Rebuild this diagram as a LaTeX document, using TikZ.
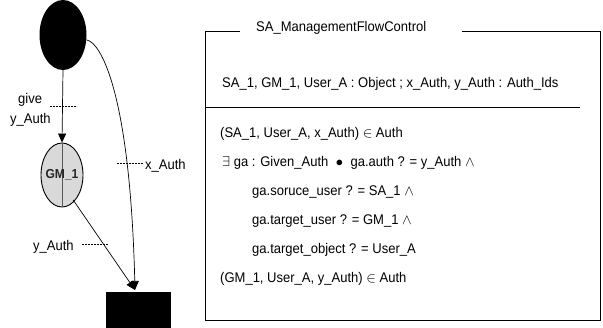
\documentclass[tikz,border=0pt]{standalone}
\usepackage{fontspec}
\setmainfont{Liberation Sans}[FakeStretch=0.93]
\usetikzlibrary{arrows.meta,shapes.geometric}
\begin{document}
\begin{tikzpicture}[x=1pt,y=-1pt,
  lbl/.style={font=\fontsize{14}{16}\selectfont, inner sep=0pt},
  ztxt/.style={font=\fontsize{14}{16}\selectfont, anchor=west, inner sep=0pt},
  tip/.style={-{Triangle[length=9pt,width=8pt]}},
  tick/.style={dashed, dash pattern=on 2pt off 1pt, line width=0.5pt}]
\useasboundingbox (0,0) rectangle (603,327);

% ---- flow graph ----
\node[ellipse, fill=black, minimum width=47pt, minimum height=70pt, inner sep=0pt] (sa) at (63,35) {};
\node[ellipse, draw, line width=0.9pt, fill=gray!30, minimum width=42pt, minimum height=64pt, inner sep=0pt] (gm) at (62,175) {};
\draw[line width=0.5pt, gray!70!black] (gm.north) -- (gm.south);
\node[font=\fontsize{13}{15}\selectfont\bfseries, text=black!85] at (gm.center) {GM\_1};
\node[fill=black, minimum width=65pt, minimum height=40pt, inner sep=0pt, anchor=north west] (ua) at (106,292) {};
\coordinate (hit) at (135,290);

\draw[tip, line width=0.7pt] (sa.south) -- (gm.north);
\draw[tip, line width=0.7pt] (sa.east |- 63,40) .. controls (100,42) and (130,90) .. (hit);
\draw[tip, line width=0.7pt] (gm.south east) ++(-4,2) coordinate (gmo) (gmo) -- (hit);

% edge labels with leader ticks
\node[lbl, anchor=west] (give) at (18,100) {give};
\node[lbl, anchor=west] (ya) at (10,120) {y\_Auth};
\coordinate (t1a) at (50,106); \coordinate (t1b) at (77,106);
\draw[tick] (t1a) -- (t1b);
\node[lbl, anchor=west] (xa) at (145,166) {x\_Auth};
\coordinate (t2a) at (117,163); \coordinate (t2b) at (143,163);
\draw[tick] (t2a) -- (t2b);
\node[lbl, anchor=west] (yb) at (33,247) {y\_Auth};
\coordinate (t3a) at (82,244); \coordinate (t3b) at (108,244);
\draw[tick] (t3a) -- (t3b);

% ---- schema box ----
\coordinate (tl) at (205,31);
\coordinate (tr) at (600,31);
\coordinate (bl) at (205,320);
\coordinate (br) at (600,320);
\node[ztxt] (title) at (256,28) {SA\_ManagementFlowControl};
\draw[line width=0.8pt] (bl) -- (tl) -- (240,31);
\draw[line width=0.8pt] (462,31) -- (tr) -- (br) -- (bl);
\draw[line width=0.8pt] (205,107) -- (580,107);

\node[ztxt] (decl) at (222,84) {SA\_1, GM\_1, User\_A : Object ; x\_Auth, y\_Auth : Auth\_Ids};
\node[ztxt] (p1) at (220,134) {(SA\_1, User\_A, x\_Auth) $\in$ Auth};
\node[ztxt] (p2) at (222,163) {$\exists$ ga : Given\_Auth \;$\bullet$\; ga.auth ? = y\_Auth $\wedge$};
\node[ztxt] (p3) at (252,192) {ga.soruce\_user ? = SA\_1 $\wedge$};
\node[ztxt] (p4) at (252,221) {ga.target\_user ? = GM\_1 $\wedge$};
\node[ztxt] (p5) at (252,250) {ga.target\_object ? = User\_A};
\node[ztxt] (p6) at (220,279) {(GM\_1, User\_A, y\_Auth) $\in$ Auth};
\end{tikzpicture}
\end{document}
